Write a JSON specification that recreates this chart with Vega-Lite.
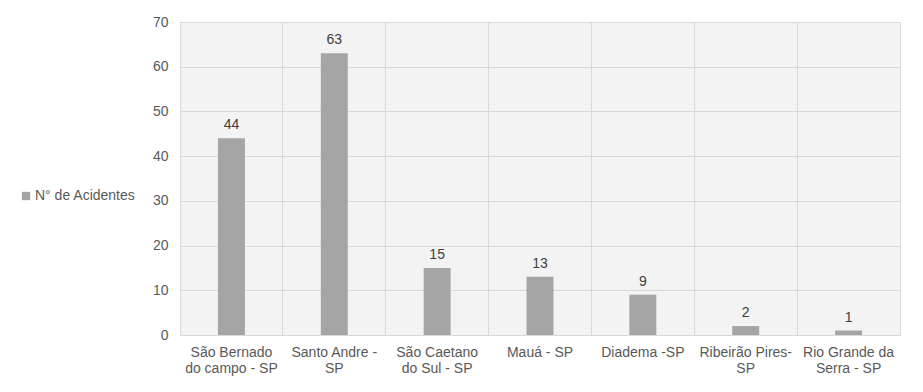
{
  "$schema": "https://vega.github.io/schema/vega-lite/v6.json",
  "width": 720,
  "height": 313,
  "autosize": {"type": "none"},
  "padding": {"left": 180, "top": 22, "right": 23, "bottom": 57},
  "background": "white",
  "config": {
    "view": {"fill": "#f3f3f3", "stroke": "#d9d9d9", "strokeWidth": 1},
    "font": "Liberation Sans"
  },
  "data": {
    "values": [
      {"cidade": "São Bernado do campo - SP", "acidentes": 44, "serie": "N° de Acidentes"},
      {"cidade": "Santo Andre - SP", "acidentes": 63, "serie": "N° de Acidentes"},
      {"cidade": "São Caetano do Sul - SP", "acidentes": 15, "serie": "N° de Acidentes"},
      {"cidade": "Mauá - SP", "acidentes": 13, "serie": "N° de Acidentes"},
      {"cidade": "Diadema -SP", "acidentes": 9, "serie": "N° de Acidentes"},
      {"cidade": "Ribeirão Pires- SP", "acidentes": 2, "serie": "N° de Acidentes"},
      {"cidade": "Rio Grande da Serra - SP", "acidentes": 1, "serie": "N° de Acidentes"}
    ]
  },
  "encoding": {
    "x": {
      "field": "cidade",
      "type": "nominal",
      "sort": null,
      "scale": {"paddingInner": 0, "paddingOuter": 0},
      "axis": {
        "title": null,
        "labelAngle": 0,
        "bandPosition": 0,
        "ticks": false,
        "grid": true,
        "gridColor": "#d9d9d9",
        "domainColor": "#d9d9d9",
        "labelColor": "#595959",
        "labelFontSize": 14,
        "labelPadding": 10,
        "labelLineHeight": 16,
        "labelExpr": "datum.value == 'São Bernado do campo - SP' ? ['São Bernado', 'do campo - SP'] : datum.value == 'Santo Andre - SP' ? ['Santo Andre -', 'SP'] : datum.value == 'São Caetano do Sul - SP' ? ['São Caetano', 'do Sul - SP'] : datum.value == 'Ribeirão Pires- SP' ? ['Ribeirão Pires-', 'SP'] : datum.value == 'Rio Grande da Serra - SP' ? ['Rio Grande da', 'Serra - SP'] : datum.value"
      }
    },
    "y": {
      "field": "acidentes",
      "type": "quantitative",
      "scale": {"domain": [0, 70]},
      "axis": {
        "title": null,
        "values": [0, 10, 20, 30, 40, 50, 60, 70],
        "ticks": false,
        "domain": false,
        "gridColor": "#d9d9d9",
        "labelColor": "#595959",
        "labelFontSize": 14,
        "labelPadding": 12
      }
    }
  },
  "layer": [
    {
      "mark": {"type": "bar", "width": {"band": 0.262}},
      "encoding": {
        "color": {
          "field": "serie",
          "type": "nominal",
          "scale": {"range": ["#a5a5a5"]},
          "legend": {
            "title": null,
            "orient": "none",
            "legendX": -161,
            "legendY": 167,
            "symbolType": "square",
            "symbolSize": 70,
            "labelFontSize": 14,
            "labelColor": "#595959",
            "labelOffset": 2
          }
        }
      }
    },
    {
      "mark": {"type": "text", "baseline": "bottom", "dy": -6, "fontSize": 14, "color": "#404040"},
      "encoding": {"text": {"field": "acidentes", "type": "quantitative"}}
    }
  ]
}
